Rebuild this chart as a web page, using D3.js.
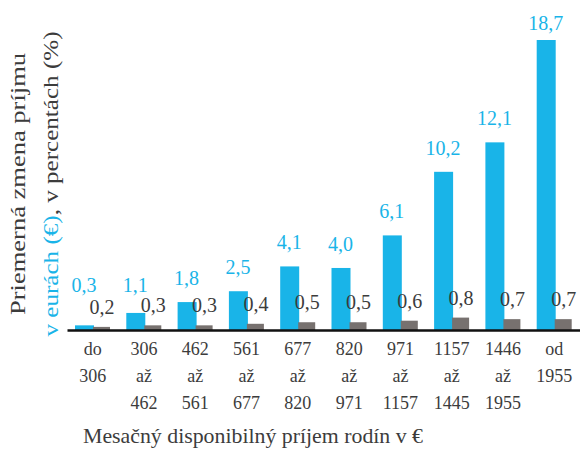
<!DOCTYPE html>
<html>
<head>
<meta charset="utf-8">
<script src="https://cdn.jsdelivr.net/npm/d3@7"></script>
<style>
  body { margin: 0; background: #fff; }
  text { font-family: "Liberation Serif", serif; }
</style>
</head>
<body>
<svg id="chart"></svg>
<script>
// income brackets (each line of the tick label is one entry)
const categories = [
    ['do', '306'],
    ['306', 'až', '462'],
    ['462', 'až', '561'],
    ['561', 'až', '677'],
    ['677', 'až', '820'],
    ['820', 'až', '971'],
    ['971', 'až', '1157'],
    ['1157', 'až', '1445'],
    ['1446', 'až', '1955'],
    ['od', '1955']
];
const euroValues = [0.3, 1.1, 1.8, 2.5, 4.1, 4.0, 6.1, 10.2, 12.1, 18.7];
const percentValues = [0.2, 0.3, 0.3, 0.4, 0.5, 0.5, 0.6, 0.8, 0.7, 0.7];
const xTitle = 'Mesačný disponibilný príjem rodín v €';

function createChart() {
    const width = 580;
    const height = 450;
    const margin = { top: 40, right: 0, bottom: 120, left: 67 };
    const blue = '#19b4e8';
    const grey = '#77716f';
    const ink = '#3c3c3c';

    const svg = d3.select('#chart')
                  .attr('width', width)
                  .attr('height', height);

    const keys = categories.map((c, i) => i);

    const xScale = d3.scaleBand()
                     .domain(keys)
                     .range([margin.left, width - margin.right]);

    const xSub = d3.scaleBand()
                   .domain(['eur', 'pct'])
                   .range([8, 44]);

    const yScale = d3.scaleLinear()
                     .domain([0, 18.7])
                     .range([height - margin.bottom, margin.top]);

    const fmt = v => d3.format('.1f')(v).replace('.', ',');

    // euro bars
    svg.append('g').selectAll('rect')
        .data(euroValues)
        .join('rect')
        .attr('x', (d, i) => xScale(i) + xSub('eur'))
        .attr('y', d => yScale(d))
        .attr('width', xSub.bandwidth() + 1)
        .attr('height', d => yScale(0) - yScale(d))
        .attr('fill', blue);

    // percent bars
    svg.append('g').selectAll('rect')
        .data(percentValues)
        .join('rect')
        .attr('x', (d, i) => xScale(i) + xSub('pct'))
        .attr('y', d => yScale(d))
        .attr('width', xSub.bandwidth() - 1)
        .attr('height', d => yScale(0) - yScale(d))
        .attr('fill', grey);

    // value labels
    svg.append('g').selectAll('text')
        .data(euroValues)
        .join('text')
        .attr('x', (d, i) => xScale(i) + xSub('eur') + xSub.bandwidth() / 2)
        .attr('y', d => Math.max(Math.min(yScale(d) - 17, 292), 30))
        .attr('text-anchor', 'middle')
        .style('font-size', '20px')
        .style('fill', blue)
        .text(fmt);

    svg.append('g').selectAll('text')
        .data(percentValues)
        .join('text')
        .attr('x', (d, i) => xScale(i) + xSub('pct') + xSub.bandwidth() / 2)
        .attr('y', d => yScale(d) - 13)
        .attr('text-anchor', 'middle')
        .style('font-size', '20px')
        .style('fill', ink)
        .text(fmt);

    // x axis
    const xAxis = svg.append('g')
        .attr('transform', `translate(0, ${yScale(0)})`)
        .call(d3.axisBottom(xScale).tickSize(0).tickFormat(''));

    xAxis.select('.domain')
        .attr('stroke', '#111')
        .attr('stroke-width', 2.5);

    xAxis.selectAll('.tick text').remove();
    xAxis.selectAll('.tick')
        .append('text')
        .attr('fill', ink)
        .attr('text-anchor', 'middle')
        .style('font-size', '18px')
        .selectAll('tspan')
        .data(i => categories[i])
        .join('tspan')
        .attr('x', 0)
        .attr('y', (d, j) => 25 + j * 27)
        .text(d => d);

    // titles are stretched a bit, the source font is wider than Liberation
    svg.append('text')
        .attr('x', 253)
        .attr('y', 443)
        .attr('text-anchor', 'middle')
        .attr('textLength', 340)
        .attr('lengthAdjust', 'spacingAndGlyphs')
        .style('font-size', '21px')
        .style('fill', ink)
        .text(xTitle);

    const cy = 184;
    svg.append('text')
        .attr('transform', `translate(25, ${cy}) rotate(-90)`)
        .attr('text-anchor', 'middle')
        .attr('textLength', 262)
        .attr('lengthAdjust', 'spacingAndGlyphs')
        .style('font-size', '21px')
        .style('fill', ink)
        .text('Priemerná zmena príjmu');

    const y2 = svg.append('text')
        .attr('transform', `translate(58, ${cy}) rotate(-90)`)
        .attr('text-anchor', 'middle')
        .attr('textLength', 305)
        .attr('lengthAdjust', 'spacingAndGlyphs')
        .style('font-size', '21px')
        .style('fill', ink);
    y2.append('tspan').style('fill', blue).text('v eurách (€)');
    y2.append('tspan').text(', v percentách (%)');
}

createChart();
</script>
</body>
</html>
